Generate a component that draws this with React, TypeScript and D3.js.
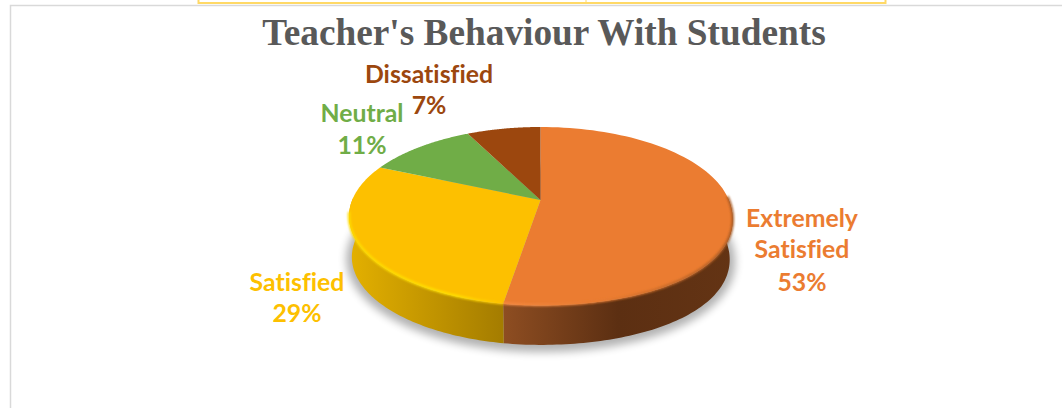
import React from "react";
import * as d3 from "d3";

const categories = ["Extremely Satisfied", "Satisfied", "Neutral", "Dissatisfied"];
const values = [52.6, 29, 11, 7.4];
const labelLines = [["Extremely", "Satisfied", "53%"], ["Satisfied", "29%"], ["Neutral", "11%"], ["Dissatisfied", "7%"]];
const titleText = "Teacher's Behaviour With Students";

const colors = ["#EB7C31", "#FDC000", "#70AD47", "#9C470E"];
const labelPos: [number, number][][] = [
  [[802, 227], [802, 258], [802, 291]],
  [[297, 291], [297, 322]],
  [[362, 122], [362, 154]],
  [[429, 83], [429, 114]],
];

const W = 1062, H = 408;
const cx = 540.5, cy = 200, persp = 0.182;

type Pt = [number, number];
const project = (theta: number, a: number, b: number, dy: number, boost = 0): Pt => {
  const x = Math.sin(theta), y = -Math.cos(theta);
  const w = 1 - persp * y;
  const s2 = Math.sin(2 * theta);
  const r = x > 0 && y > 0 ? 1 + boost * s2 * s2 : 1;
  return [cx + (r * a * x) / w, cy + dy + (r * b * y) / w];
};
const topP = (t: number) => project(t, 188.3, 86.3, 0, 0.025);
const botP = (t: number) => project(t, 185.5, 85, 41, 0.02);
const shadowP = (t: number) => project(t, 191, 90, 42, 0.02);

const sampled = (a0: number, a1: number, n = 90) =>
  d3.range(n + 1).map((i) => a0 + ((a1 - a0) * i) / n);
const line = d3.line<Pt>();
const arcs = d3.pie<number>().sort(null).startAngle(0).endAngle(2 * Math.PI)(values);

const rad = (deg: number) => (deg * Math.PI) / 180;
const FRONT0 = rad(88), FRONT1 = rad(272), RIM1 = rad(262);

export default function App() {
  const fullRing = sampled(0, 2 * Math.PI, 180);
  return (
    <svg width={W} height={H} style={{ position: "fixed", left: 0, top: 0, background: "#fff" }}>
      <defs>
        <linearGradient id="wall0" gradientUnits="userSpaceOnUse" x1="501" x2="735" y1="0" y2="0">
          <stop offset="0" stopColor="#8F4E22" />
          <stop offset="0.5" stopColor="#5C2F12" />
          <stop offset="1" stopColor="#643414" />
        </linearGradient>
        <linearGradient id="wall1" gradientUnits="userSpaceOnUse" x1="350" x2="501" y1="0" y2="0">
          <stop offset="0" stopColor="#E3B000" />
          <stop offset="1" stopColor="#A57D00" />
        </linearGradient>
        <linearGradient id="rim0" gradientUnits="userSpaceOnUse" x1="501" x2="732" y1="0" y2="0">
          <stop offset="0" stopColor="#F58A42" />
          <stop offset="0.45" stopColor="#E57A30" />
          <stop offset="1" stopColor="#A85A24" />
        </linearGradient>
        <linearGradient id="rim1" gradientUnits="userSpaceOnUse" x1="350" x2="501" y1="0" y2="0">
          <stop offset="0" stopColor="#FFDD00" />
          <stop offset="0.7" stopColor="#FFE100" />
          <stop offset="1" stopColor="#FFC400" />
        </linearGradient>
        <filter id="shadow" x="-10%" y="-20%" width="120%" height="140%">
          <feGaussianBlur stdDeviation="4" />
        </filter>
        <filter id="soft" x="-5%" y="-5%" width="110%" height="110%">
          <feGaussianBlur stdDeviation="0.9" />
        </filter>
      </defs>

      <rect x={198.5} y={-2} width={687} height={5} fill="#fff" stroke="#FFD966" strokeWidth={2} />
      <line x1={586} x2={586} y1={0} y2={3} stroke="#FFD966" />
      <path d="M10.5,408V5.5H1062" fill="none" stroke="#D9D9D9" strokeWidth={1.5} />

      <text x={544} y={45} textAnchor="middle" fontFamily="Liberation Serif" fontWeight="bold" fontSize={37.3} fill="#595959">
        {titleText}
      </text>

      <path d={line(fullRing.map(shadowP)) + "Z"} fill="#000" opacity={0.3} filter="url(#shadow)" />

      {arcs.map((d, i) => {
        const a0 = Math.max(d.startAngle, FRONT0), a1 = Math.min(d.endAngle, FRONT1);
        if (a1 <= a0) return null;
        const ts = sampled(a0, a1);
        const pts = [...ts.map(topP), ...ts.slice().reverse().map(botP)];
        return <path key={categories[i]} d={line(pts) + "Z"} fill={`url(#wall${i})`} />;
      })}

      {arcs.map((d, i) => {
        const pts = [[cx, cy] as Pt, ...sampled(d.startAngle, d.endAngle).map(topP)];
        return <path key={categories[i]} d={line(pts) + "Z"} fill={colors[i]} />;
      })}

      {arcs.map((d, i) => {
        const a0 = Math.max(d.startAngle, FRONT0), a1 = Math.min(d.endAngle, RIM1);
        if (a1 <= a0) return null;
        const pts = sampled(a0, a1).map((t) => {
          const p = topP(t);
          return [p[0], p[1] - 0.5] as Pt;
        });
        return (
          <path key={categories[i]} d={line(pts) ?? ""} fill="none" stroke={`url(#rim${i})`} strokeWidth={2.5} filter="url(#soft)" />
        );
      })}

      {labelLines.map((ls, i) =>
        ls.map((t, j) => (
          <text key={t + i} x={labelPos[i][j][0]} y={labelPos[i][j][1]} textAnchor="middle"
            fontFamily="Lato" fontWeight="bold" fontSize={24.8} fill={colors[i]}
            style={{ fontVariantLigatures: "none" }}>
            {t}
          </text>
        ))
      )}
    </svg>
  );
}
